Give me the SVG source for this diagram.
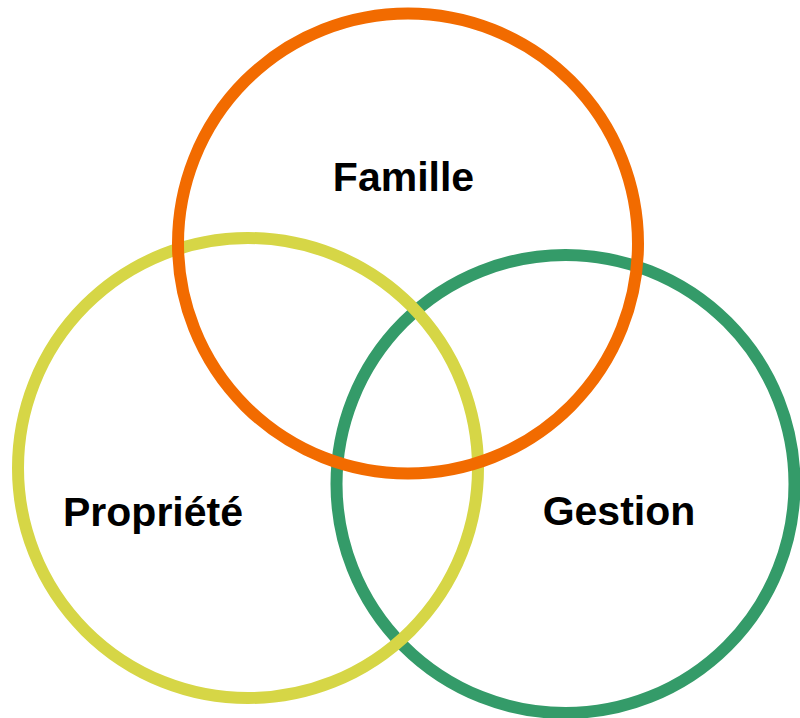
<svg xmlns="http://www.w3.org/2000/svg" width="800" height="718" viewBox="0 0 800 718">
  <style>
    .ring { fill: none; stroke-width: 12; }
    .label { font-family: "Liberation Sans", Arial, sans-serif; font-weight: bold; font-size: 41px; fill: #000000; text-anchor: middle; }
  </style>
  <rect width="800" height="718" fill="#ffffff"/>
  <g id="gestion">
    <circle class="ring" cx="565.5" cy="484" r="229" stroke="#349B69"/>
  </g>
  <g id="propriete">
    <circle class="ring" cx="248" cy="468" r="230" stroke="#D6D646"/>
  </g>
  <g id="famille">
    <circle class="ring" cx="408" cy="243.5" r="230" stroke="#F26B00"/>
  </g>
  <g id="labels">
    <text class="label" x="403.5" y="191">Famille</text>
    <text class="label" x="153" y="526">Propriété</text>
    <text class="label" x="619" y="525">Gestion</text>
  </g>
</svg>
